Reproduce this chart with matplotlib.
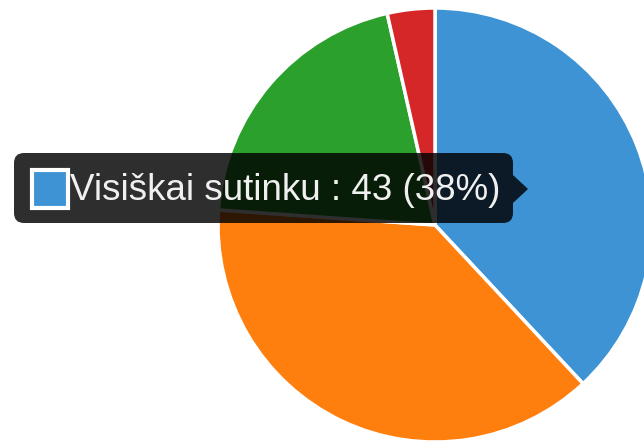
import matplotlib.pyplot as plt
from matplotlib.patches import FancyBboxPatch, Polygon, Rectangle

# Pie data
labels = ["Visiškai sutinku", "Sutinku", "Nei sutinku, nei nesutinku", "Nesutinku"]
values = [43, 43, 23, 4]
colors = ["#3d93d3", "#ff7f0e", "#2ca02c", "#d62728"]

W, H = 644, 443
fig = plt.figure(figsize=(W / 100, H / 100), dpi=100)
ax = fig.add_axes([0, 0, 1, 1])

ax.pie(values, colors=colors, startangle=90, counterclock=False,
       center=(435, H - 225), radius=217,
       wedgeprops=dict(edgecolor="white", linewidth=2.5))
ax.set_xlim(0, W)
ax.set_ylim(0, H)
ax.set_aspect("equal")
ax.axis("off")

# Tooltip
tip = FancyBboxPatch((14, H - 223), 499, 70,
                     boxstyle="round,pad=0,rounding_size=10",
                     facecolor=(0, 0, 0, 0.82), edgecolor="none", zorder=5)
ax.add_patch(tip)
ax.add_patch(Polygon([(513, H - 175), (528, H - 189), (513, H - 203)],
                     closed=True, facecolor=(0, 0, 0, 0.82),
                     edgecolor="none", zorder=5))
ax.add_patch(Rectangle((32, H - 208), 36, 38, facecolor=colors[0],
                       edgecolor="white", linewidth=3, zorder=6))

total = sum(values)
ax.text(70, H - 190, f"{labels[0]} : {values[0]} ({values[0] / total:.0%})",
        color="#f0f0f0", fontsize=26.5, family="Liberation Sans",
        va="center", ha="left", zorder=7)

plt.savefig("out.png", dpi=100)
